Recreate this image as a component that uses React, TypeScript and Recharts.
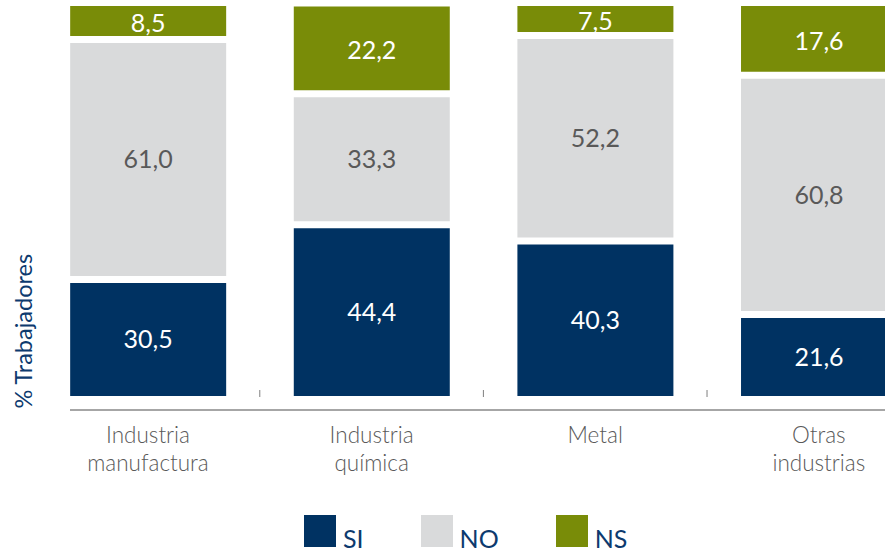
import { BarChart, Bar, XAxis, YAxis, LabelList, Legend, Rectangle } from "recharts";

const categories = [
  ["Industria", "manufactura"],
  ["Industria", "química"],
  ["Metal"],
  ["Otras", "industrias"],
];
const si = [30.5, 44.4, 40.3, 21.6];
const no = [61.0, 33.3, 52.2, 60.8];
const ns = [8.5, 22.2, 7.5, 17.6];

const series = [
  { key: "SI", values: si, color: "#003262", text: "#ffffff" },
  { key: "NO", values: no, color: "#d9dadb", text: "#595959" },
  { key: "NS", values: ns, color: "#798c08", text: "#ffffff" },
];

const data = categories.map((c, i) => ({
  idx: i,
  SI: si[i],
  NO: no[i],
  NS: ns[i],
}));

const FONT = "Lato, 'Open Sans', sans-serif";
const GAP = 3.5;

const makeShape = (top: number, bottom: number) => (props: any) => {
  const { x, y, width, height, fill } = props;
  return <Rectangle x={x} y={y + top} width={width} height={Math.max(0, height - top - bottom)} fill={fill} />;
};

const CatTick = (props: any) => {
  const { x, y, payload } = props;
  const v = payload.value;
  if (!Number.isInteger(v)) {
    return <line x1={x} x2={x} y1={y - 20} y2={y - 13} stroke="#7f7f7f" strokeWidth={1} />;
  }
  const lines = categories[v] || [];
  return (
    <text x={x} y={y} textAnchor="middle" fill="#595959" fontFamily={FONT} fontWeight={300} fontSize={22.5}>
      {lines.map((l, i) => (
        <tspan key={i} x={x} dy={i === 0 ? 33 : 28}>{l}</tspan>
      ))}
    </text>
  );
};

const YLabel = (props: any) => {
  const { viewBox } = props;
  const cx = 23;
  const cy = viewBox.y + viewBox.height * 0.805;
  return (
    <text x={cx} y={cy} transform={`rotate(-90 ${cx} ${cy})`} textAnchor="middle" dominantBaseline="central"
      fill="#0d3a6e" fontFamily={FONT} fontSize={23.5}>
      % Trabajadores
    </text>
  );
};

const LegendBox = () => (
  <div style={{ display: "flex", alignItems: "flex-end", paddingLeft: 304, height: 40, fontFamily: FONT }}>
    {series.map((s) => (
      <div key={s.key} style={{ display: "flex", alignItems: "flex-end", marginRight: 57 }}>
        <div style={{ width: 32, height: 32, background: s.color }} />
        <span style={{ marginLeft: 7, fontSize: 25, lineHeight: "25px", color: "#0d3a6e", position: "relative", top: 4 }}>{s.key}</span>
      </div>
    ))}
  </div>
);

const fmt = (v: any) => Number(v).toFixed(1).replace(".", ",");

export default function App() {
  return (
    <div style={{ position: "absolute", left: 0, top: 0, width: 885, height: 554, overflow: "hidden", background: "#fff" }}>
      <BarChart width={953} height={554} data={data} margin={{ top: 6, right: 0, left: 0, bottom: 44 }}>
        <XAxis
          type="number"
          dataKey="idx"
          domain={[-0.3487, 3.6]}
          allowDataOverflow
          ticks={[0, 0.5, 1, 1.5, 2, 2.5, 3]}
          interval={0}
          tickLine={false}
          tickSize={0}
          tickMargin={0}
          height={60}
          axisLine={{ stroke: "#a6a6a6", strokeWidth: 2 }}
          tick={<CatTick />}
        />
        <YAxis
          domain={[-2.66, 100]}
          allowDataOverflow
          width={70}
          axisLine={false}
          tickLine={false}
          tick={false}
          label={<YLabel />}
        />
        <Legend content={<LegendBox />} wrapperStyle={{ position: "absolute", left: 0, top: 507, width: 885, height: 40 }} />
        {series.map((s) => (
          <Bar
            key={s.key}
            dataKey={s.key}
            stackId="a"
            fill={s.color}
            barSize={156}
            isAnimationActive={false}
            shape={makeShape(s.key === "NS" ? 0 : GAP, GAP)}
          >
            <LabelList dataKey={s.key} position="center" fill={s.text} fontFamily={FONT} fontSize={25} formatter={fmt} />
          </Bar>
        ))}
      </BarChart>
    </div>
  );
}
